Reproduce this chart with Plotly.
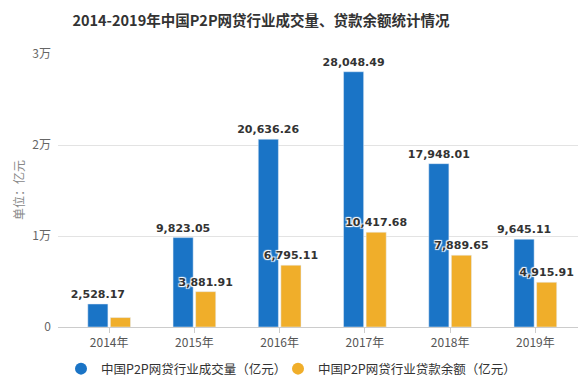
import plotly.graph_objects as go

years = ["2014年", "2015年", "2016年", "2017年", "2018年", "2019年"]
volume = [2528.17, 9823.05, 20636.26, 28048.49, 17948.01, 9645.11]
balance = [1036.00, 3881.91, 6795.11, 10417.68, 7889.65, 4915.91]
balance_label_shown = [False, True, True, True, True, True]
tick_vals = [0, 10000, 20000, 30000]
tick_text = ["0", "1万", "2万", "3万"]
name_volume = "中国P2P网贷行业成交量（亿元）"
name_balance = "中国P2P网贷行业贷款余额（亿元）"
unit_text = "单位：亿元"

BLUE = "#1a74c6"
ORANGE = "#f0ae2a"

def fmt(v):
    return f"{v:,.2f}"

vol_text = [fmt(v) for v in volume]
bal_text = [fmt(v) if s else "" for v, s in zip(balance, balance_label_shown)]

label_font = dict(family="DejaVu Sans", size=11, color="#333333", weight="bold",
                  shadow="1px 1px 1px white, -1px -1px 1px white, 1px -1px 1px white, -1px 1px 1px white")

fig = go.Figure()
fig.add_trace(go.Bar(x=years, y=volume, marker_color=BLUE, text=vol_text,
                     textposition="outside", textangle=0, constraintext="none",
                     cliponaxis=False, textfont=label_font, showlegend=False,
                     hoverinfo="skip"))
fig.add_trace(go.Bar(x=years, y=balance, marker_color=ORANGE, text=bal_text,
                     textposition="outside", textangle=0, constraintext="none",
                     cliponaxis=False, textfont=label_font, showlegend=False,
                     hoverinfo="skip"))
# legend entries with circle symbols, one legend each for exact placement
fig.add_trace(go.Scatter(x=[None], y=[None], mode="markers", name=name_volume,
                         marker=dict(color=BLUE, size=12, symbol="circle"),
                         legend="legend"))
fig.add_trace(go.Scatter(x=[None], y=[None], mode="markers", name=name_balance,
                         marker=dict(color=ORANGE, size=12, symbol="circle"),
                         legend="legend2"))

legend_common = dict(orientation="h", xref="container", yref="container",
                     xanchor="left", y=8 / 377, yanchor="middle",
                     font=dict(family="Noto Sans CJK SC", size=12.5, color="#333333"),
                     itemwidth=30, bgcolor="rgba(0,0,0,0)")

fig.update_layout(
    width=584, height=377,
    margin=dict(l=58, r=6, t=54, b=50, autoexpand=False),
    paper_bgcolor="white", plot_bgcolor="white",
    barmode="group", bargap=0.47, bargroupgap=0.11,
    title=dict(text="<b>2014-2019年中国P2P网贷行业成交量、贷款余额统计情况</b>",
               x=261 / 584, xanchor="center", y=1 - 21 / 377, yanchor="middle",
               xref="container",
               font=dict(family="Noto Sans CJK SC", size=14.5, color="#333333")),
    font=dict(family="Noto Sans CJK SC", size=12, color="#555555"),
    xaxis=dict(range=[-0.6, 5.5], showline=True, linecolor="#cccccc", linewidth=1,
               ticks="outside", ticklen=5, tickcolor="#cccccc",
               tickfont=dict(family="Noto Sans CJK SC", size=12, color="#555555"),
               showgrid=False, fixedrange=True, automargin=False),
    yaxis=dict(range=[0, 30000], tickvals=tick_vals, ticktext=tick_text,
               showgrid=True, gridcolor="#e3e3e3", gridwidth=1, zeroline=False,
               ticks="", ticklabelstandoff=6, automargin=False,
               tickfont=dict(family="Noto Sans CJK SC", size=12, color="#666666"),
               fixedrange=True),
    annotations=[dict(text=unit_text, textangle=-90, showarrow=False,
                      xref="paper", yref="paper",
                      x=(18 - 58) / 520, y=(327 - 190) / 273,
                      xanchor="center", yanchor="middle",
                      font=dict(family="Noto Sans CJK SC", size=12, color="#888888"))],
    legend=dict(x=61 / 584, **legend_common),
    legend2=dict(x=278 / 584, **legend_common),
)

fig.write_html("out.html", config={"displayModeBar": False},
               post_script="document.body.style.margin='0';")
